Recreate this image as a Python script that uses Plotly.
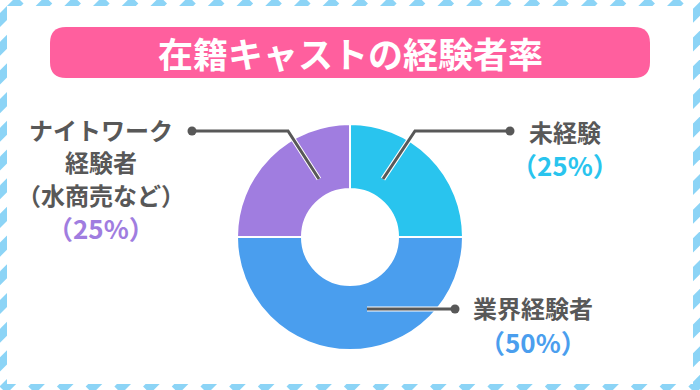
import plotly.graph_objects as go

# ---- data ----
categories = ["未経験", "業界経験者", "ナイトワーク経験者（水商売など）"]
values = [25, 50, 25]
label_lines = [["未経験"], ["業界経験者"], ["ナイトワーク", "経験者", "（水商売など）"]]
title_text = "在籍キャストの経験者率"

# ---- styles ----
slice_colors = ["#29C4EE", "#4A9EEE", "#A07DE0"]
text_gray = "#585858"
pink = "#FF5F9E"
stripe = "#8CD4F6"
FONT = "Noto Sans CJK JP"
W, H = 700, 390

fig = go.Figure()

fig.add_trace(go.Pie(
    labels=categories, values=values, sort=False, direction="clockwise",
    rotation=0, hole=0.425, textinfo="none", hoverinfo="skip",
    showlegend=False,
    marker=dict(colors=slice_colors, line=dict(color="white", width=2)),
    domain=dict(x=[237 / W, 463 / W], y=[(H - 350) / H, (H - 124) / H]),
))

shapes = []
# striped frame
period = 28.7
c = 20 - 2 * period
while c < W + H + period:
    shapes.append(dict(type="line", xref="x", yref="y", x0=c, y0=0, x1=c - H, y1=H,
                       line=dict(color=stripe, width=10), layer="below"))
    c += period
shapes.append(dict(type="rect", xref="x", yref="y", x0=7, y0=6, x1=693, y1=384,
                   fillcolor="white", line=dict(width=0), layer="below"))
# title pill
r = 16
x0, x1, y0, y1 = 50, 650, 27, 78
path = (f"M {x0+r},{y0} L {x1-r},{y0} Q {x1},{y0} {x1},{y0+r} L {x1},{y1-r} "
        f"Q {x1},{y1} {x1-r},{y1} L {x0+r},{y1} Q {x0},{y1} {x0},{y1-r} "
        f"L {x0},{y0+r} Q {x0},{y0} {x0+r},{y0} Z")
shapes.append(dict(type="path", xref="x", yref="y", path=path, fillcolor=pink,
                   line=dict(width=0), layer="below"))

# leader lines (polyline from slice to dot)
leaders = [
    [(383, 179), (415, 131), (510, 131)],
    [(367, 309), (455, 309)],
    [(319, 179), (288, 131), (192, 131)],
]
for pts in leaders:
    p = "M " + " L ".join(f"{x},{y}" for x, y in pts)
    shapes.append(dict(type="path", xref="x", yref="y", path=p,
                       line=dict(color="white", width=5), layer="above"))
for pts in leaders:
    p = "M " + " L ".join(f"{x},{y}" for x, y in pts)
    shapes.append(dict(type="path", xref="x", yref="y", path=p,
                       line=dict(color=text_gray, width=3), layer="above"))
    dx, dy = pts[-1]
    shapes.append(dict(type="circle", xref="x", yref="y", x0=dx - 4.5, x1=dx + 4.5,
                       y0=dy - 4.5, y1=dy + 4.5, fillcolor=text_gray,
                       line=dict(width=0), layer="above"))

annotations = [dict(text=f"<b>{title_text}</b>", x=350, y=52, xref="x", yref="y",
                    showarrow=False, font=dict(family=FONT, size=35, color="white"))]

# label positions: (center x, line y list, percent y)
label_pos = [(565, [131], 164.5), (533, [307], 341), (101, [129, 161.5, 194], 227)]
for i, (cx, ys, py) in enumerate(label_pos):
    for line, yy in zip(label_lines[i], ys):
        annotations.append(dict(text=f"<b>{line}</b>", x=cx, y=yy, xref="x", yref="y",
                                showarrow=False, xanchor="center", yanchor="middle",
                                font=dict(family=FONT, size=24, color=text_gray)))
    annotations.append(dict(text=f"<b>（{values[i]}%）</b>", x=cx, y=py, xref="x", yref="y",
                            showarrow=False, xanchor="center", yanchor="middle",
                            font=dict(family=FONT, size=26, color=slice_colors[i])))

fig.update_layout(
    width=W, height=H, autosize=False,
    margin=dict(l=0, r=0, t=0, b=0, pad=0),
    paper_bgcolor="white", plot_bgcolor="rgba(0,0,0,0)",
    xaxis=dict(range=[0, W], visible=False, fixedrange=True, domain=[0, 1]),
    yaxis=dict(range=[H, 0], visible=False, fixedrange=True, domain=[0, 1]),
    shapes=shapes, annotations=annotations,
)

fig.write_html("out.html", config={"displayModeBar": False},
               post_script="document.body.style.margin='0';")
